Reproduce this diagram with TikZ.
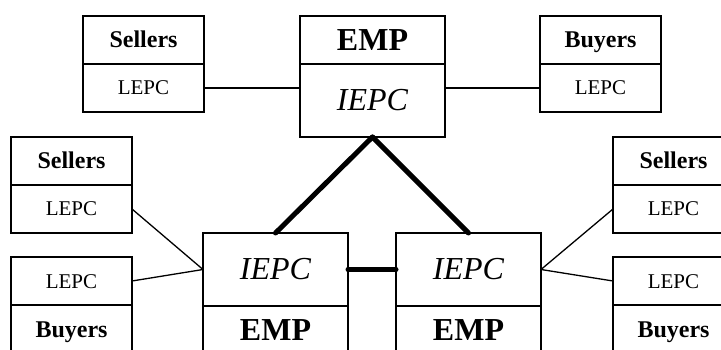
\documentclass[tikz,border=0pt]{standalone}
\usepackage{fontspec}
\setmainfont{Liberation Serif}

\begin{document}
\begin{tikzpicture}[x=1pt, y=-1pt,
    cell/.style={draw, line width=1.3pt, rectangle, inner sep=0pt, outer sep=0pt},
    small/.style={cell, minimum width=121pt, minimum height=48pt},
    big/.style={cell, minimum width=145pt},
    party/.style={font=\fontsize{24}{26}\selectfont\bfseries, text height=18pt, text depth=2pt},
    local/.style={font=\fontsize{21}{23}\selectfont, text height=14pt, text depth=0pt},
    market/.style={font=\fontsize{32}{34}\selectfont\bfseries},
    core/.style={font=\fontsize{32}{34}\selectfont\itshape},
    link/.style={line width=1.3pt},
    trunk/.style={line width=5pt, line cap=round}]
    \useasboundingbox (0,0) rectangle (721,350);
    \clip (0,0) rectangle (721,350);

    % Top market
    \node[big, market, minimum height=48pt, anchor=north west] (topemp) at (300,16) {EMP};
    \node[big, core, minimum height=73pt, anchor=north] (topiepc) at (topemp.south) {IEPC};

    % Top sellers and buyers
    \node[small, party, anchor=north west] (tsel) at (83,16) {Sellers};
    \node[small, local, anchor=north] (tsellepc) at (tsel.south) {LEPC};
    \node[small, party, anchor=north west] (tbuy) at (540,16) {Buyers};
    \node[small, local, anchor=north] (tbuylepc) at (tbuy.south) {LEPC};

    % Bottom markets
    \node[big, core, minimum height=73pt, anchor=north west] (liepc) at (203,233) {IEPC};
    \node[big, market, minimum height=48pt, anchor=north] (lemp) at (liepc.south) {EMP};
    \node[big, core, minimum height=73pt, anchor=north west] (riepc) at (396,233) {IEPC};
    \node[big, market, minimum height=48pt, anchor=north] (remp) at (riepc.south) {EMP};

    % Left sellers and buyers
    \node[small, party, anchor=north west] (lsel) at (11,137) {Sellers};
    \node[small, local, anchor=north] (lsellepc) at (lsel.south) {LEPC};
    \node[small, local, anchor=north west] (lbuylepc) at (11,257) {LEPC};
    \node[small, party, anchor=north] (lbuy) at (lbuylepc.south) {Buyers};

    % Right sellers and buyers
    \node[small, party, anchor=north west] (rsel) at (613,137) {Sellers};
    \node[small, local, anchor=north] (rsellepc) at (rsel.south) {LEPC};
    \node[small, local, anchor=north west] (rbuylepc) at (613,257) {LEPC};
    \node[small, party, anchor=north] (rbuy) at (rbuylepc.south) {Buyers};

    % Links to the top market
    \draw[link] (tsellepc.east) -- (tsellepc.east -| topiepc.west);
    \draw[link] (tbuylepc.west) -- (tbuylepc.west -| topiepc.east);

    % Links between markets
    \draw[trunk] (topiepc.south) -- (liepc.north);
    \draw[trunk] (topiepc.south) -- (riepc.north);
    \draw[trunk] (liepc.east) -- (riepc.west);

    % Links to the bottom markets
    \draw[link] (lsellepc.east) -- (liepc.west);
    \draw[link] (lbuylepc.east) -- (liepc.west);
    \draw[link] (rsellepc.west) -- (riepc.east);
    \draw[link] (rbuylepc.west) -- (riepc.east);
\end{tikzpicture}
\end{document}
